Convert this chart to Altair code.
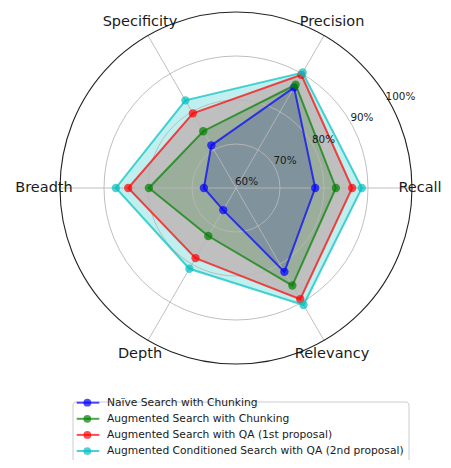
import altair as alt
import pandas as pd

# ---------------- data ----------------
CATEGORIES = ["Recall", "Precision", "Specificity", "Breadth", "Depth", "Relevancy"]
SERIES = [
    "Naïve Search with Chunking",
    "Augmented Search with Chunking",
    "Augmented Search with QA (1st proposal)",
    "Augmented Conditioned Search with QA (2nd proposal)",
]
NAIVE = [78.0, 86.4, 71.2, 67.3, 65.8, 82.0]
AUG_CHUNK = [82.7, 87.1, 74.9, 79.8, 72.6, 85.6]
AUG_QA = [86.4, 89.7, 79.6, 84.5, 78.4, 89.2]
COND_QA = [88.6, 90.3, 83.0, 87.3, 81.2, 90.7]
VALUES = [NAIVE, AUG_CHUNK, AUG_QA, COND_QA]
R_TICKS = [60, 70, 80, 90, 100]
R_TICK_LABELS = ["60%", "70%", "80%", "90%", "100%"]

# ---------------- styles / layout ----------------
COLORS = ["#0000ff", "#008000", "#ff0000", "#00bfbf"]
R_MIN, R_MAX = 60, 100
W, H = 435, 452
CX, CY, RPX = 228, 180, 176
FONT = "DejaVu Sans"
TXT = "#1a1a1a"

xscale = alt.Scale(domain=[-CX / RPX, (W - CX) / RPX], nice=False, zero=False)
yscale = alt.Scale(domain=[-(H - CY) / RPX, CY / RPX], nice=False, zero=False)

rows = []
for s, vals in zip(SERIES, VALUES):
    for i, (c, v) in enumerate(zip(CATEGORIES, vals)):
        rows.append({"series": s, "idx": i, "cat": c, "value": v})
df = pd.DataFrame(rows)

polar = f"(datum.value - {R_MIN}) / {R_MAX - R_MIN}"
base = alt.Chart(df).transform_calculate(
    ang="datum.idx * PI / 3",
    r=polar,
).transform_calculate(
    px="datum.r * cos(datum.ang)",
    py="datum.r * sin(datum.ang)",
)

X = alt.X("px:Q", scale=xscale, axis=None)
Y = alt.Y("py:Q", scale=yscale, axis=None)

fills = []
lines = []
for s, col in zip(SERIES, COLORS):
    sub = base.transform_filter(alt.datum.series == s)
    fills.append(
        sub.mark_line(interpolate="linear-closed", fill=col, fillOpacity=0.25,
                      strokeOpacity=0, strokeWidth=0)
        .encode(x=X, y=Y, order=alt.Order("idx:Q"))
    )
    lines.append(
        sub.mark_line(interpolate="linear-closed", color=col, opacity=0.7, strokeWidth=2)
        .encode(x=X, y=Y, order=alt.Order("idx:Q"))
    )
    lines.append(
        sub.mark_circle(color=col, opacity=0.7, size=70)
        .encode(x=X, y=Y)
    )

# grid circles
grid_df = pd.DataFrame({"level": R_TICKS, "label": R_TICK_LABELS})
grid_base = alt.Chart(grid_df).transform_calculate(
    r=f"(datum.level - {R_MIN}) / {R_MAX - R_MIN}",
    zero="0",
).transform_calculate(
    sz=f"pow(2 * datum.r * {RPX}, 2)",
)
grid_circles = grid_base.transform_filter(
    (alt.datum.level > R_MIN) & (alt.datum.level < R_MAX)
).mark_point(shape="circle", filled=False, stroke="#b8b8b8", strokeWidth=0.9, opacity=1).encode(
    x=alt.X("zero:Q", scale=xscale, axis=None),
    y=alt.Y("zero:Q", scale=yscale, axis=None),
    size=alt.Size("sz:Q", scale=None, legend=None),
)
outer_circle = grid_base.transform_filter(alt.datum.level == R_MAX).mark_point(
    shape="circle", filled=False, stroke="#222222", strokeWidth=1.1, opacity=1
).encode(
    x=alt.X("zero:Q", scale=xscale, axis=None),
    y=alt.Y("zero:Q", scale=yscale, axis=None),
    size=alt.Size("sz:Q", scale=None, legend=None),
)

# radial tick labels along ~29 degrees
rlabels = grid_base.transform_calculate(
    rl=f"datum.r + 12 / {RPX}",
).transform_calculate(
    lx="datum.rl * cos(29 * PI / 180)",
    ly="datum.rl * sin(29 * PI / 180)",
).mark_text(font=FONT, fontSize=10.4, color=TXT, align="center", baseline="middle").encode(
    x=alt.X("lx:Q", scale=xscale, axis=None),
    y=alt.Y("ly:Q", scale=yscale, axis=None),
    text="label:N",
)

# spokes and category labels
cat_df = pd.DataFrame({"cat": CATEGORIES, "idx": list(range(len(CATEGORIES)))})
cat_base = alt.Chart(cat_df).transform_calculate(
    ang="datum.idx * PI / 3",
    zero="0",
    lr=f"(datum.cat == 'Recall' ? 184 : 192) / {RPX}",
).transform_calculate(
    ex="cos(datum.ang)",
    ey="sin(datum.ang)",
    lx="datum.lr * cos(datum.ang)",
    ly="datum.lr * sin(datum.ang)",
)
spokes = cat_base.mark_rule(stroke="#b8b8b8", strokeWidth=0.9).encode(
    x=alt.X("zero:Q", scale=xscale, axis=None),
    y=alt.Y("zero:Q", scale=yscale, axis=None),
    x2="ex:Q",
    y2="ey:Q",
)
cat_labels = cat_base.mark_text(font=FONT, fontSize=14.5, color=TXT, align="center", baseline="middle").encode(
    x=alt.X("lx:Q", scale=xscale, axis=None),
    y=alt.Y("ly:Q", scale=yscale, axis=None),
    text="cat:N",
)

# custom legend
leg_df = pd.DataFrame({"series": SERIES, "row": list(range(len(SERIES)))})
leg_y = alt.Y("row:Q", scale=alt.Scale(domain=[0, 3], range=[402.7 - 8, 451 - 8], nice=False, zero=False), axis=None)
leg_color = alt.Color("series:N", scale=alt.Scale(domain=SERIES, range=COLORS), legend=None)
leg_frame = alt.Chart(leg_df).transform_aggregate(n="count()").mark_rect(
    fill="white", stroke="#cccccc", strokeWidth=1, cornerRadius=3
).encode(
    x=alt.value(73 - 8), x2=alt.value(409 - 8), y=alt.value(402 - 8), y2=alt.value(480)
)
leg_rules = alt.Chart(leg_df).mark_rule(strokeWidth=2, opacity=0.7).encode(
    x=alt.value(68.7), x2=alt.value(91.3), y=leg_y, color=leg_color
)
leg_points = alt.Chart(leg_df).mark_circle(size=60, opacity=0.7).encode(
    x=alt.value(79.3), y=leg_y, color=leg_color
)
leg_text = alt.Chart(leg_df).mark_text(font=FONT, fontSize=10.7, color=TXT, align="left", baseline="middle").encode(
    x=alt.value(99), y=leg_y, text="series:N"
)

chart = alt.layer(
    *fills, grid_circles, spokes, *lines, outer_circle, rlabels, cat_labels,
    leg_frame, leg_rules, leg_points, leg_text,
).resolve_scale(y="independent").properties(
    width=W, height=H, autosize=alt.AutoSizeParams(type="none"), padding=0
).configure_view(strokeWidth=0)

chart.save("out.html", embed_options={"renderer": "svg", "actions": False})
